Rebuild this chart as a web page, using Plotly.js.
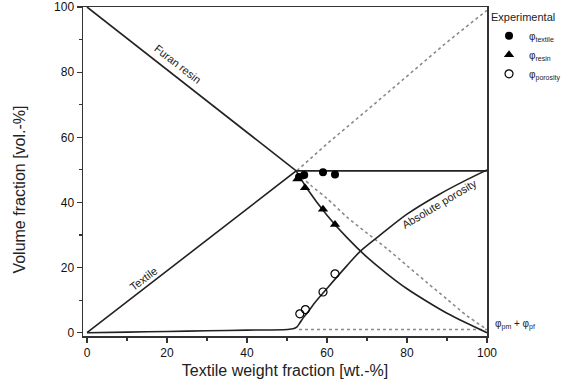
<!DOCTYPE html>
<html><head><meta charset="utf-8">
<script src="https://cdn.plot.ly/plotly-3.0.1.min.js"></script>
<style>html,body{margin:0;padding:0;background:#fff}#plot{width:573px;height:389px}</style>
</head><body><div id="plot"></div>
<script>
// Model curves
const textileW = [0, 52.3, 100];
const textileV = [0, 49.7, 49.7];
const resinW = [0, 52.3, 55, 60, 65, 70, 75, 80, 85, 90, 95, 100];
const resinV = [100, 49.7, 44.3, 36.1, 29.2, 23.2, 18.1, 13.5, 9.6, 6.0, 2.9, 0];
const porosityW = [0, 10, 20, 30, 40, 50, 51.5, 52.5, 53.2, 54.2, 55, 57, 60, 65, 68.3, 72.9, 80, 87.8, 95, 100];
const porosityV = [0, 0.2, 0.4, 0.6, 0.8, 1.0, 1.2, 1.8, 3.0, 4.8, 6.0, 9.3, 13.6, 20.6, 25, 29.6, 36.4, 42.3, 47, 50];
const dotTextileW = [52.5, 60, 70, 80, 90, 100];
const dotTextileV = [49.8, 58, 68.3, 78.7, 89.2, 99];
const dotResinW = [52.5, 56, 60, 65, 70, 75, 80, 85, 90, 95, 100];
const dotResinV = [49, 45.2, 41.2, 35.5, 30.6, 25.8, 20.6, 15.4, 10.3, 5.2, 1];
const dotPoreW = [53, 100];
const dotPoreV = [1, 1];
// Experimental
const expW_textile = [53, 54.3, 59, 62];
const expV_textile = [47.8, 48.4, 49.3, 48.6];
const expW_resin = [52.6, 54.5, 59, 62];
const expV_resin = [47.2, 44.5, 37.9, 33.2];
const expW_por = [53.2, 54.6, 59, 62];
const expV_por = [5.8, 7.1, 12.5, 18.1];
const ticks = [0, 20, 40, 60, 80, 100];

const F = 'Arial, "Liberation Sans", sans-serif';
const dark = '#222';
const gray = '#8a8a8a';
function line(x, y, dash, color, spline) {
  return {x, y, mode: 'lines', showlegend: false, hoverinfo: 'skip',
    line: {color, width: 1.6, dash, shape: spline ? 'spline' : 'linear', smoothing: 0.8}};
}
const traces = [
  line(dotTextileW, dotTextileV, 'dot', gray),
  line(dotResinW, dotResinV, 'dot', gray, true),
  line(dotPoreW, dotPoreV, 'dot', gray),
  line(textileW, textileV, 'solid', dark),
  line(resinW.slice(0, 2), resinV.slice(0, 2), 'solid', dark),
  line(resinW.slice(1), resinV.slice(1), 'solid', dark, true),
  line(porosityW, porosityV, 'solid', dark, true),
  {x: expW_textile, y: expV_textile, mode: 'markers', name: 'φ<sub>textile</sub>',
   marker: {symbol: 'circle', size: 8, color: '#000'}},
  {x: expW_resin, y: expV_resin, mode: 'markers', name: 'φ<sub>resin</sub>',
   marker: {symbol: 'triangle-up', size: 9, color: '#000'}},
  {x: expW_por, y: expV_por, mode: 'markers', name: 'φ<sub>porosity</sub>',
   marker: {symbol: 'circle-open', size: 8, color: '#000', line: {width: 1.2}}}
];
const axisCommon = {
  showgrid: false, zeroline: false, showline: true, mirror: true,
  linecolor: '#333', linewidth: 1.5, ticks: 'outside', ticklen: 5, tickwidth: 1.3,
  tickcolor: '#333', tickvals: ticks, tickfont: {family: F, size: 12, color: '#111'},
  minor: {ticks: 'outside', ticklen: 3, tickwidth: 1.2, tickcolor: '#333', dtick: 10, tick0: 0}
};
const layout = {
  width: 573, height: 389,
  margin: {l: 83, r: 84, t: 7, b: 53},
  paper_bgcolor: '#fff', plot_bgcolor: '#fff',
  font: {family: F, color: '#222'},
  xaxis: Object.assign({}, axisCommon, {range: [-1, 100],
    title: {text: 'Textile weight fraction [wt.-%]', font: {family: F, size: 16, color: '#222'}, standoff: 6}}),
  yaxis: Object.assign({}, axisCommon, {range: [-1, 100]}),
  legend: {x: 1.005, y: 1.0, xanchor: 'left', yanchor: 'top', bgcolor: 'rgba(0,0,0,0)',
    title: {text: 'Experimental', font: {family: F, size: 11, color: '#222'}},
    font: {family: F, size: 10, color: '#222'}, itemwidth: 30, tracegroupgap: 0},
  annotations: [
    {xref: 'paper', yref: 'paper', x: 0, y: 0.445, xshift: -63, xanchor: 'center', yanchor: 'middle',
     text: 'Volume fraction [vol.-%]',
     showarrow: false, textangle: -90, font: {family: F, size: 16, color: '#222'}},
    {x: 22.7, y: 82.5, text: 'Furan resin', showarrow: false, textangle: 38,
     font: {family: F, size: 11, color: '#222'}},
    {x: 14, y: 16.5, text: 'Textile', showarrow: false, textangle: -37,
     font: {family: F, size: 11, color: '#222'}},
    {x: 88, y: 39.5, text: 'Absolute porosity', showarrow: false, textangle: -31,
     font: {family: F, size: 11, color: '#222'}},
    {x: 1.015, xref: 'paper', y: 2.5, xanchor: 'left', text: 'φ<sub>pm</sub> + φ<sub>pf</sub>', showarrow: false,
     font: {family: F, size: 10, color: '#222'}}
  ]
};
Plotly.newPlot('plot', traces, layout, {displayModeBar: false, staticPlot: true});
</script></body></html>
